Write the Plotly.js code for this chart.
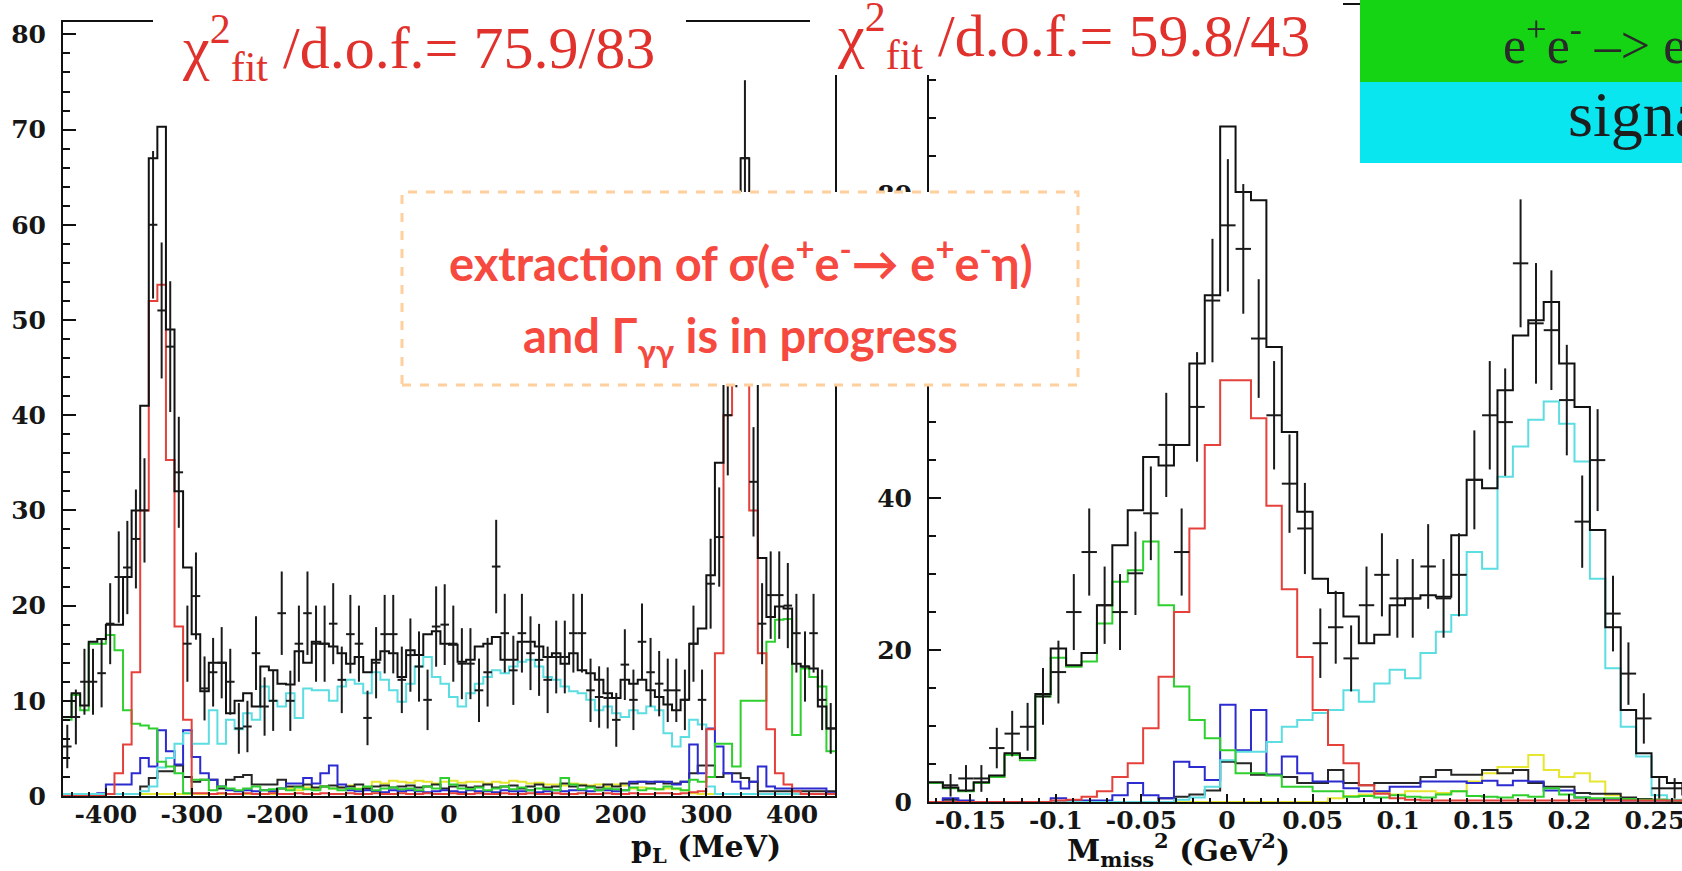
<!DOCTYPE html>
<html><head><meta charset="utf-8">
<script src="https://cdn.plot.ly/plotly-3.0.1.min.js"></script>
<style>html,body{margin:0;padding:0;background:#fff}#chart{width:1682px;height:871px}</style>
</head><body><div id="chart"></div>
<script>
// ---------------- LEFT PANEL: p_L (MeV), 90 bins of 10 MeV from -450 ----------------
const leftLo = -450, leftW = 10;
const leftTotal = [
 8.3,10.8,9.5,16.2,16.5,18,18,23,30,41,
 67,70.3,49,32,24,17,11,14,14,8.7,
 10,10.8,9.4,13.6,13.2,11.8,11.7,15.2,14,16.2,
 16,15.7,15,13.9,14.6,13,14.3,15.2,15,12.5,
 15.3,14.8,17,17.3,16,15.9,14.1,14.3,15.7,16,
 16.7,14.3,14.3,16.2,16.2,15.7,14.6,15,13.9,15,
 13.2,12.9,12.2,10.8,10.3,12.2,11.8,12.2,11.1,10.4,
 9.6,9,10.1,16,17.6,23.2,35,50,63,67,
 45,25,18.8,19.9,19.7,13.9,13.6,13.4,9.4,7.1];
const leftData = [
 5.2,8.3,12,12,12.9,18.1,23,24,27,30,
 60,51,47.2,34,16,21,11.3,13,14,12,
 7.1,7.3,15,9.4,10,19.2,10,16,19.2,16,
 16,18.1,12.2,17,16,8.2,14,17,17,12.2,
 14.8,13.6,10.1,17.8,18,16,13.9,13.9,11.1,13,
 24.1,17.1,13.2,17.1,15,14.3,12.2,14.6,14.6,17.1,
 17.1,11.1,10.4,10.3,8,13.8,10.1,16.2,13,11.8,
 11.1,11.1,10.1,16,10.1,22.3,27.2,40,50,67,
 33,18.1,21.1,21.1,20,17.1,13.6,17.1,10.1,7.1];
const leftGreen = [
 8,10.6,9,16,16,16.9,15.3,9,7.6,7.4,
 7.1,3.6,3.1,2.4,0.3,1.7,1.7,0.6,1,0.8,
 0.6,0.8,1,0.6,0.7,0.8,0.6,0.9,0.7,0.6,
 1,0.8,0.6,0.8,0.7,1,0.6,0.8,0.9,0.7,
 0.8,0.6,1,0.8,1.9,1.2,0.8,0.7,0.9,0.6,
 0.8,1,0.7,0.9,0.6,0.8,0.7,0.6,1.9,1.2,
 0.7,0.9,0.6,0.8,0.7,0.6,0.9,0.6,0.8,0.7,
 1,0.8,0.6,1.7,1.5,2,5.5,5.5,3.1,10,
 10,10,16.2,18.5,18.6,6.4,13.4,12.5,11.5,4.7];
const leftRed = [
 0,0,0,0,0,0.2,2.4,5.4,13,30,
 52,53.7,35.3,17.8,8,0.3,0.3,0.2,0.3,0.2,
 0.2,0.3,0.2,0.2,0.3,0.2,0.2,0.3,0.2,0.2,
 0.3,0.2,0.2,0.3,0.2,0.2,0.3,0.2,0.2,0.3,
 0.2,0.2,0.3,0.2,0.2,0.3,0.2,0.2,0.3,0.2,
 0.2,0.3,0.2,0.2,0.3,0.2,0.2,0.3,0.2,0.2,
 0.3,0.2,0.2,0.3,0.2,0.2,0.3,0.2,0.2,0.3,
 0.3,0.2,0.3,0.4,0.5,7,15,40,54,50,
 30,15,7,2.4,1.2,0.5,0.2,0.2,0.2,0.2];
const leftCyan = [
 0.2,0.2,0.2,0.2,0.2,0.2,0.2,0.2,0.2,0.5,
 1,3,4,5.5,6.6,5.5,5.5,9,5.5,8,
 7,8.7,8,11.5,10,9.4,10.8,8.2,11.3,11.1,
 11.1,10,11.5,12.2,11.8,10.8,13,12.2,11.1,9.9,
 11.8,13.6,14.6,12.5,11.8,10.4,9.4,10.8,11.8,12.5,
 13.2,12.9,13.6,14.1,14.3,13.6,12.5,12.2,11.5,11,
 10.8,10.1,9,9.4,8.7,8.3,9,8.7,9.4,9,
 6.6,5.2,6.2,8,7.5,1,0.2,0.2,0.2,0.2,
 0.2,0.2,0.2,0.2,0.2,0.2,0.2,0.2,0.2,0.2];
const leftBlue = [
 0.2,0.2,0.2,0.2,0.3,1.2,1.2,1.2,2.4,4,
 3.1,6.9,4.7,3.3,6.9,4.1,2.4,1.7,1,0.6,
 0.5,0.6,0.5,0.6,0.5,0.8,1.3,1.3,1.9,1.3,
 2.4,3.2,1.2,0.6,0.5,0.6,0.5,0.4,0.6,0.5,
 0.6,0.5,0.4,0.5,0.6,0.5,0.4,0.6,0.5,0.5,
 0.4,0.6,0.5,0.5,0.6,0.4,0.5,0.6,0.5,0.6,
 0.6,0.5,0.6,0.6,0.5,0.6,1.5,1.5,1.5,1.5,
 1.5,1.2,1.5,5.4,2.4,7.1,5.2,2.4,1.5,0.8,
 1.5,3.1,1,0.8,0.8,0.8,0.8,0.8,0.8,0.3];
const leftYellow = [
 0.2,0.2,0.2,0.2,0.2,0.2,0.2,0.2,0.2,0.2,
 0.2,0.2,0.2,0.2,0.2,0.2,0.2,0.2,0.2,0.2,
 0.2,0.2,0.2,0.2,0.2,0.8,0.8,0.6,0.9,0.8,
 1,0.8,0.9,1.1,0.8,0.9,1.5,1.3,1.6,1.5,
 1.4,1.6,1.5,1.3,1.5,1.6,1.4,1.5,1.5,1.3,
 1.5,1.4,1.6,1.5,1.3,1.4,1.2,1.2,1.1,1.3,
 1.2,1.1,1.2,1,1.2,1.1,0.8,0.9,0.8,0.7,
 0.8,0.7,0.6,0.3,0.2,0.2,0.2,0.2,0.2,0.2,
 0.2,0.2,0.2,0.2,0.2,0.2,0.2,0.2,0.2,0.2];
const leftDark = [
 0.2,0.2,0.2,0.2,0.2,0.2,0.2,0.2,0.2,1,
 1.9,2.6,2.6,3.2,2,1.5,1.7,1.7,0.8,1.7,
 2,2.2,1.2,1.2,1.2,1.7,1,1,1.2,0.9,
 1,1.1,0.9,1,1.2,0.8,1,1.1,0.9,1,
 1.1,0.9,1,1.2,0.8,1,1.1,0.9,1,1.2,
 0.9,1,1.1,0.8,1,1.2,0.9,1,1.3,1,
 1.1,1,0.9,1.2,1,1.3,1.3,1.5,1.3,1.5,
 1.3,1.3,1.5,2.4,3.2,3.2,2,2.4,2.4,1.9,
 1.5,0.5,0.5,0.5,0.5,0.5,0.5,0.5,0.5,0.5];
const leftTickVals = [-400,-300,-200,-100,0,100,200,300,400];
const leftTickText = ['-400','-300','-200','-100','0','100','200','300','400'];

// ---------------- RIGHT PANEL: M_miss^2 (GeV^2), 50 bins of 0.009 from -0.175 ----------------
const rightLo = -0.175, rightW = 0.009;
const rightTotal = [
 2.6,1.9,1.5,2.6,3.5,6.4,5.8,14.2,20.2,18,
 19.6,25.9,33.8,38.4,45.4,44.3,47,57.7,66.7,88.9,
 80.3,79.2,59.9,48.7,38.2,29.4,27.5,24.4,20.9,22,
 25.9,26.8,27.2,27,35.1,42.4,41.3,54.2,61.4,63.4,
 65.8,57.7,52,35.8,23,12.1,6.4,3.3,2.5,1];
const rightData = [
 null,2.2,3.1,3.1,7.1,9,9.9,13.9,17.1,25,
 32.9,25.9,25,30.1,38,47,32.9,52,66,75.9,
 72.8,61,50.9,41.9,36,20.9,23,18.9,25.9,29.9,
 26.8,26.8,31,26.8,29.9,42.4,50.9,50,70.9,63,
 62.1,52.9,36.9,45,24.8,16.9,11,1.8,1.8,null];
const rightGreen = [
 2.5,1.8,1.4,2.5,3.3,6.2,5.5,13.9,19,17.8,
 18.5,23.5,29,30.5,34.3,25.9,15.2,10.8,8.4,6.8,
 3.8,3.8,3.5,2,2,1.4,1.4,0.7,0.8,0.6,
 0.9,0.7,0.6,1,1.4,0.8,0.7,0.6,0.9,0.7,
 1.8,1,0.6,0.5,0.5,0.4,0.3,0.3,0.2,0.2];
const rightRed = [
 0,0,0,0,0,0,0,0,0.2,0.3,
 0.7,1.4,3.3,5.1,9.7,16.5,25,36,47,55.5,
 55.5,50.5,39,28,19.1,12.1,7.5,5.1,2.2,1.1,
 0.5,0.3,0.2,0.2,0.2,0.2,0.2,0.2,0.2,0.2,
 0.2,0.2,0.2,0.2,0.2,0.2,0.2,0.2,0.2,0.2];
const rightCyan = [
 0,0,0,0,0,0,0,0,0,0,
 0,0,0,0,0,0,0.3,0.6,2,5.5,
 6.6,6.6,7.9,9.9,10.8,11.7,12.1,14.7,13.2,15.6,
 17.4,16.3,19.6,22.4,24.6,32.9,30.7,42.8,46.8,50.3,
 52.7,49.8,44.8,29.4,17.6,9.9,6,0.9,0.3,0.2];
const rightBlue = [
 0,0.5,0.2,0,0,0,0,0,0.5,0.2,
 0.2,0.2,0.9,2.5,0.9,0.5,5.3,4.6,2.9,12.8,
 6.8,12.1,3.6,6,3.8,2.7,2.7,1.8,1.4,1.4,
 2,2,2.7,2.7,2.7,2.5,2.8,2.2,2.8,2.7,
 1.5,1.5,0.6,0.4,0.3,0.2,0.2,0.2,0.2,0.2];
const rightDark = [
 0,0.3,0,0,0,0,0,0,0,0,
 0,0,0,0,0,0.5,0.7,1,1.5,5.3,
 5.1,3.6,3.6,3.3,2.5,2.5,4.2,2.5,2.2,2.5,
 2.5,2.5,3.3,4.2,3.6,3.6,4.2,3.8,4.2,2.5,
 2,2,1.2,1.1,1.1,0.6,0.4,0.3,0.2,0.2];
const rightYellow = [
 0,0,0,0,0,0,0,0,0,0,
 0,0,0,0,0,0,0,0,0,0,
 0,0,0,0,0,0,0.5,0.8,1,1.2,
 1,1.4,1.4,1.2,1.4,2.7,3.8,4.6,4.6,6.2,
 4.2,3.3,3.8,2.7,0.9,0.3,0.2,0.2,0.2,0.2];
const rightTickVals = [-0.15,-0.1,-0.05,0,0.05,0.1,0.15,0.2,0.25];
const rightTickText = ['-0.15','-0.1','-0.05','0','0.05','0.1','0.15','0.2','0.25'];

// ---------------- helpers ----------------
const W = 1682, H = 871;
const px = x => x / W;
const py = y => 1 - y / H;

function stepTrace(lo, w, vals, color, xa, ya, width) {
  const xs = [], ys = [];
  for (let i = 0; i < vals.length; i++) { xs.push(lo + w * i); ys.push(vals[i]); }
  xs.push(lo + w * vals.length); ys.push(vals[vals.length - 1]);
  return {type:'scatter', mode:'lines', x:xs, y:ys, xaxis:xa, yaxis:ya,
          line:{shape:'hv', color:color, width:width || 2}, hoverinfo:'skip'};
}
function dataTrace(lo, w, vals, xa, ya) {
  const xs = [], ys = [], es = [];
  vals.forEach((v, i) => { if (v !== null) { xs.push(lo + w * (i + 0.5)); ys.push(v); es.push(Math.sqrt(v)); } });
  return {type:'scatter', mode:'markers', x:xs, y:ys, xaxis:xa, yaxis:ya,
          marker:{size:1, color:'#1a1a1a'},
          error_y:{type:'data', array:es, visible:true, color:'#1a1a1a', thickness:2, width:0},
          error_x:{type:'constant', value:w/2, visible:true, color:'#1a1a1a', thickness:2, width:0},
          hoverinfo:'skip'};
}

const C = {green:'#2fcf2f', red:'#e5403a', cyan:'#5cdde2', blue:'#2b2bd0', yellow:'#e6e62e', dark:'#262626', total:'#111111'};

const traces = [
  stepTrace(leftLo, leftW, leftYellow, C.yellow, 'x', 'y'),
  stepTrace(leftLo, leftW, leftDark, C.dark, 'x', 'y'),
  stepTrace(leftLo, leftW, leftBlue, C.blue, 'x', 'y'),
  stepTrace(leftLo, leftW, leftCyan, C.cyan, 'x', 'y'),
  stepTrace(leftLo, leftW, leftGreen, C.green, 'x', 'y'),
  stepTrace(leftLo, leftW, leftRed, C.red, 'x', 'y'),
  stepTrace(leftLo, leftW, leftTotal, C.total, 'x', 'y'),
  dataTrace(leftLo, leftW, leftData, 'x', 'y'),
  stepTrace(rightLo, rightW, rightYellow, C.yellow, 'x2', 'y2'),
  stepTrace(rightLo, rightW, rightDark, C.dark, 'x2', 'y2'),
  stepTrace(rightLo, rightW, rightBlue, C.blue, 'x2', 'y2'),
  stepTrace(rightLo, rightW, rightCyan, C.cyan, 'x2', 'y2'),
  stepTrace(rightLo, rightW, rightGreen, C.green, 'x2', 'y2'),
  stepTrace(rightLo, rightW, rightRed, C.red, 'x2', 'y2'),
  stepTrace(rightLo, rightW, rightTotal, C.total, 'x2', 'y2'),
  dataTrace(rightLo, rightW, rightData, 'x2', 'y2')
];

const tickFont = {family:'DejaVu Serif', size:25, color:'#161616', weight:'bold'};
const axBase = {showline:true, linecolor:'#111', linewidth:2, ticks:'inside', tickcolor:'#111',
                showgrid:false, zeroline:false, tickfont:tickFont, fixedrange:true, ticklabeloverflow:'allow'};

const layout = {
  width: W, height: H, margin:{l:0, r:0, t:0, b:0},
  paper_bgcolor:'#ffffff', plot_bgcolor:'#ffffff', showlegend:false,
  xaxis: Object.assign({}, axBase, {domain:[px(63), px(835)], range:[-450, 450], anchor:'y', mirror:true,
          tickmode:'array', tickvals:leftTickVals, ticktext:leftTickText, ticklen:8, tickwidth:2, ticklabelstandoff:-5,
          minor:{dtick:20, tick0:0, ticks:'inside', ticklen:4, tickcolor:'#111'}}),
  yaxis: Object.assign({}, axBase, {domain:[py(796), py(22)], range:[0, 81.3], anchor:'x', mirror:true,
          dtick:10, tick0:0, ticklen:13, tickwidth:2, ticklabelstandoff:10,
          minor:{dtick:2, tick0:0, ticks:'inside', ticklen:7, tickcolor:'#111'}}),
  xaxis2: Object.assign({}, axBase, {domain:[px(929), 1], range:[-0.1741, 0.2658], anchor:'y2', mirror:true,
          tickmode:'array', tickvals:rightTickVals, ticktext:rightTickText, ticklen:8, tickwidth:2, ticklabelstandoff:-5,
          minor:{dtick:0.01, tick0:0, ticks:'inside', ticklen:4, tickcolor:'#111'}}),
  yaxis2: Object.assign({}, axBase, {domain:[py(802), py(5)], range:[0, 104.9], anchor:'x2',
          dtick:20, tick0:0, ticklen:12, tickwidth:2, ticklabelstandoff:10,
          minor:{dtick:5, tick0:0, ticks:'inside', ticklen:7, tickcolor:'#111'}}),
  shapes: [
    {type:'rect', xref:'paper', yref:'paper', x0:px(153), x1:px(686), y0:py(80), y1:py(0), fillcolor:'#fff', line:{width:0}, layer:'above'},
    {type:'rect', xref:'paper', yref:'paper', x0:px(810), x1:px(1343), y0:py(75), y1:py(0), fillcolor:'#fff', line:{width:0}, layer:'above'},
    {type:'rect', xref:'paper', yref:'paper', x0:px(1360), x1:1, y0:py(82), y1:1, fillcolor:'#14d414', line:{width:0}, layer:'above'},
    {type:'rect', xref:'paper', yref:'paper', x0:px(1360), x1:1, y0:py(163), y1:py(82), fillcolor:'#0ae6ef', line:{width:0}, layer:'above'},
    {type:'rect', xref:'paper', yref:'paper', x0:px(402), x1:px(1078), y0:py(385), y1:py(192), fillcolor:'#fff',
     line:{width:3, color:'#ffcf9e', dash:'dash'}, layer:'above'}
  ],
  annotations: [
    {xref:'paper', yref:'paper', x:px(418), y:py(48), xanchor:'center', yanchor:'middle', showarrow:false,
     text:'χ<sup>2</sup><sub>fit</sub> /d.o.f.= 75.9/83', font:{family:'Liberation Serif', size:60, color:'#e0312c'}},
    {xref:'paper', yref:'paper', x:px(1073), y:py(36), xanchor:'center', yanchor:'middle', showarrow:false,
     text:'χ<sup>2</sup><sub>fit</sub> /d.o.f.= 59.8/43', font:{family:'Liberation Serif', size:60, color:'#e0312c'}},
    {xref:'paper', yref:'paper', x:px(1501), y:py(42), xanchor:'left', yanchor:'middle', showarrow:false,
     text:'e<sup>+</sup>e<sup>-</sup> –> e<sup>+</sup>e<sup>-</sup>γ', font:{family:'Liberation Serif', size:52, color:'#2a2a2a'}},
    {xref:'paper', yref:'paper', x:px(1566), y:py(114), xanchor:'left', yanchor:'middle', showarrow:false,
     text:'signal', font:{family:'Liberation Serif', size:64, color:'#1e1e1e'}},
    {xref:'paper', yref:'paper', x:px(741), y:py(260), xanchor:'center', yanchor:'middle', showarrow:false,
     text:'extraction of σ(e<sup>+</sup>e<sup>-</sup>→ e<sup>+</sup>e<sup>-</sup>η)', font:{family:'Lato', size:47, color:'#f6493f', weight:'bold'}},
    {xref:'paper', yref:'paper', x:px(740), y:py(338), xanchor:'center', yanchor:'middle', showarrow:false,
     text:'and Γ<sub>γγ</sub> is in progress', font:{family:'Lato', size:47, color:'#f6493f', weight:'bold'}},
    {xref:'paper', yref:'paper', x:px(706), y:py(848), xanchor:'center', yanchor:'middle', showarrow:false,
     text:'<b>p<sub>L</sub> (MeV)</b>', font:{family:'DejaVu Serif', size:30, color:'#111'}},
    {xref:'paper', yref:'paper', x:px(1178), y:py(850), xanchor:'center', yanchor:'middle', showarrow:false,
     text:'<b>M<sub>miss</sub><sup>2</sup> (GeV<sup>2</sup>)</b>', font:{family:'DejaVu Serif', size:30, color:'#111'}}
  ]
};

Plotly.newPlot('chart', traces, layout, {staticPlot:true, displayModeBar:false});
</script></body></html>
